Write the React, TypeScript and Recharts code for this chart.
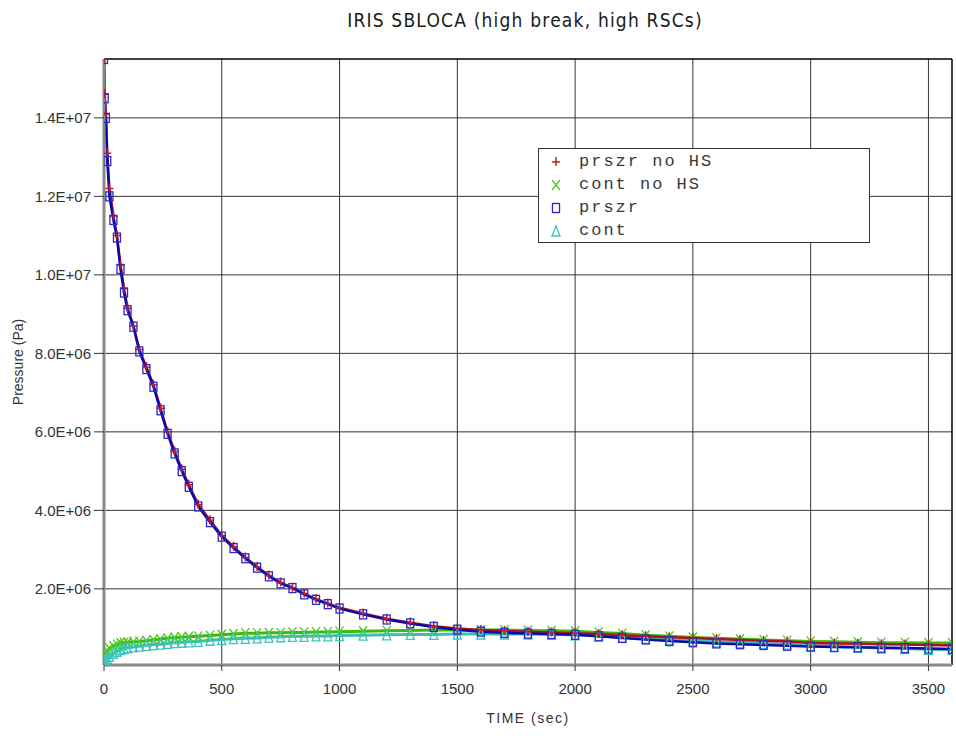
import { CartesianGrid, Line, LineChart, ReferenceLine, XAxis, YAxis } from "recharts"

// time in sec, pressures in MPa (axis labels print them in Pa)
const times = [
  0, 3, 8, 14, 23, 40, 55, 70, 85, 100, 125, 150, 180, 210, 240, 270, 300, 330, 360, 400, 450,
  500, 550, 600, 650, 700, 750, 800, 850, 900, 950, 1000,
  1100, 1200, 1300, 1400, 1500, 1600, 1700, 1800, 1900, 2000, 2100, 2200, 2300, 2400, 2500,
  2600, 2700, 2800, 2900, 3000, 3100, 3200, 3300, 3400, 3500, 3600,
]

const prszrNoHS = [
  15.5, 14.6, 14.1, 13.1, 12.2, 11.5, 11.0, 10.25, 9.65, 9.15, 8.7, 8.1, 7.65, 7.2, 6.6, 6.0, 5.5, 5.05, 4.65, 4.15, 3.75,
  3.36, 3.07, 2.8, 2.56, 2.34, 2.16, 2.03, 1.88, 1.74, 1.63, 1.52,
  1.37, 1.24, 1.14, 1.05, 0.99, 0.95, 0.93, 0.91, 0.89, 0.87, 0.85, 0.82, 0.79, 0.77, 0.75,
  0.72, 0.7, 0.68, 0.66, 0.62, 0.61, 0.6, 0.59, 0.58, 0.57, 0.56,
]

const contNoHS = [
  0.25, 0.3, 0.36, 0.42, 0.48, 0.54, 0.58, 0.62, 0.63, 0.64, 0.65, 0.66, 0.68, 0.7, 0.72, 0.74, 0.76, 0.77, 0.78, 0.79, 0.81,
  0.83, 0.85, 0.87, 0.87, 0.88, 0.88, 0.89, 0.89, 0.9, 0.9, 0.91,
  0.92, 0.93, 0.94, 0.95, 0.95, 0.95, 0.95, 0.94, 0.93, 0.92, 0.89, 0.86, 0.82, 0.79, 0.76,
  0.74, 0.72, 0.7, 0.68, 0.66, 0.65, 0.64, 0.63, 0.63, 0.62, 0.62,
]

const prszr = [
  15.5, 14.5, 14.0, 12.9, 12.0, 11.4, 10.95, 10.15, 9.55, 9.1, 8.68, 8.05, 7.6, 7.15, 6.55, 5.95, 5.45, 5.0, 4.6, 4.1, 3.7,
  3.33, 3.04, 2.78, 2.54, 2.32, 2.14, 2.02, 1.86, 1.72, 1.61, 1.5,
  1.35, 1.22, 1.12, 1.03, 0.96, 0.91, 0.88, 0.86, 0.85, 0.83, 0.79, 0.75, 0.71, 0.67, 0.64,
  0.61, 0.59, 0.57, 0.55, 0.53, 0.52, 0.51, 0.5, 0.49, 0.48, 0.47,
]

const cont = [
  0.1, 0.14, 0.19, 0.23, 0.28, 0.36, 0.41, 0.45, 0.48, 0.5, 0.52, 0.54, 0.56, 0.58, 0.59, 0.61, 0.63, 0.64, 0.65, 0.66, 0.69,
  0.71, 0.73, 0.74, 0.75, 0.77, 0.78, 0.79, 0.79, 0.8, 0.8, 0.81,
  0.82, 0.83, 0.84, 0.84, 0.85, 0.85, 0.85, 0.85, 0.84, 0.83, 0.8, 0.77, 0.74, 0.71, 0.68,
  0.65, 0.63, 0.61, 0.59, 0.55, 0.53, 0.51, 0.49, 0.48, 0.46, 0.45,
]

const xTicks = [0, 500, 1000, 1500, 2000, 2500, 3000, 3500]
const yTicks = [2, 4, 6, 8, 10, 12, 14]

const data = times.map((t, i) => ({
  t,
  prszrNoHS: prszrNoHS[i],
  contNoHS: contNoHS[i],
  prszr: prszr[i],
  cont: cont[i],
}))

const RED = "#c41c2c"
const GREEN = "#4cc81e"
const BLUE = "#2a2ac8"
const CYAN = "#3ec4bc"
const SANS = "'Liberation Sans', Arial, sans-serif"

function fmtY(v: number) {
  return v >= 10 ? `${(v / 10).toFixed(1)}E+07` : `${v.toFixed(1)}E+06`
}

const PlusDot = (p: any) =>
  p.cx == null ? <g key={p.index} /> : (
    <path key={p.index} d={`M${p.cx - 4},${p.cy}H${p.cx + 4}M${p.cx},${p.cy - 5}V${p.cy + 4}`} stroke={RED} strokeWidth={1.5} fill="none" />
  )

const CrossDot = (p: any) =>
  p.cx == null ? <g key={p.index} /> : (
    <path key={p.index} d={`M${p.cx - 4},${p.cy - 5}L${p.cx + 4},${p.cy + 5}M${p.cx + 4},${p.cy - 5}L${p.cx - 4},${p.cy + 5}`} stroke={GREEN} strokeWidth={1.3} fill="none" />
  )

const SquareDot = (p: any) =>
  p.cx == null ? <g key={p.index} /> : (
    <rect key={p.index} x={p.cx - 3.5} y={p.cy - 4.5} width={7} height={9} stroke={BLUE} strokeWidth={1.3} fill="none" />
  )

const TriDot = (p: any) =>
  p.cx == null ? <g key={p.index} /> : (
    <path key={p.index} d={`M${p.cx - 4},${p.cy + 5}L${p.cx},${p.cy - 5}L${p.cx + 4},${p.cy + 5}Z`} stroke={CYAN} strokeWidth={1.3} fill="none" />
  )

const legendItems = [
  { label: "prszr no HS", Dot: PlusDot },
  { label: "cont no HS", Dot: CrossDot },
  { label: "prszr", Dot: SquareDot },
  { label: "cont", Dot: TriDot },
]

function LegendBox() {
  return (
    <div
      style={{
        position: "absolute",
        left: 538,
        top: 148,
        width: 332,
        height: 95,
        border: "1px solid #333",
        background: "#fff",
        boxSizing: "border-box",
        paddingTop: 1,
      }}
    >
      {legendItems.map(({ label, Dot }, i) => (
        <div key={label} style={{ display: "flex", alignItems: "center", height: 23 }}>
          <svg width={40} height={23}>
            <Dot cx={17} cy={12} index={i} />
          </svg>
          <span style={{ fontFamily: "'Liberation Mono', monospace", fontSize: 17, letterSpacing: 2, color: "#3a3a3a" }}>
            {label}
          </span>
        </div>
      ))}
    </div>
  )
}

export default function App() {
  return (
    <div style={{ position: "absolute", left: 0, top: 0, width: 956, height: 739, background: "#fff" }}>
      <div
        style={{
          position: "absolute",
          left: 0,
          top: 9,
          width: 1050,
          textAlign: "center",
          fontFamily: "'Liberation Sans Narrow', 'DejaVu Sans Condensed', sans-serif",
          fontSize: 19,
          letterSpacing: 1.2,
          color: "#1a1a1a",
        }}
      >
        IRIS SBLOCA (high break, high RSCs)
      </div>
      <LineChart width={956} height={739} data={data} margin={{ top: 59, right: 4, bottom: 0, left: 0 }}>
        <CartesianGrid stroke="#333" strokeWidth={1} horizontalValues={yTicks} verticalValues={xTicks} />
        <XAxis
          dataKey="t"
          type="number"
          domain={[0, 3600]}
          ticks={xTicks}
          allowDataOverflow
          height={74}
          axisLine={{ stroke: "#888", strokeWidth: 3 }}
          tickLine={{ stroke: "#333" }}
          tickSize={6}
          tickMargin={12}
          tick={{ fontSize: 15, fill: "#333", fontFamily: SANS }}
          label={{
            value: "TIME (sec)",
            position: "insideBottom",
            offset: 16,
            style: { fontSize: 14, fill: "#333", letterSpacing: 1.5, fontFamily: SANS },
          }}
        />
        <YAxis
          type="number"
          domain={[0.06, 15.5]}
          ticks={yTicks}
          allowDataOverflow
          width={104}
          tickFormatter={fmtY}
          axisLine={{ stroke: "#888", strokeWidth: 3 }}
          tickLine={{ stroke: "#333" }}
          tickSize={10}
          tickMargin={3}
          tick={{ fontSize: 15, fill: "#333", fontFamily: SANS }}
          label={{
            value: "Pressure (Pa)",
            angle: -90,
            position: "insideLeft",
            offset: 18,
            style: { fontSize: 14, fill: "#333", textAnchor: "middle", fontFamily: SANS },
          }}
        />
        <ReferenceLine y={15.5} stroke="#000" strokeWidth={1.5} />
        <ReferenceLine x={3600} stroke="#000" strokeWidth={1.5} />
        <Line dataKey="contNoHS" stroke="#3cba08" strokeWidth={3} dot={CrossDot} isAnimationActive={false} />
        <Line dataKey="cont" stroke="#3cbdb6" strokeWidth={3} dot={TriDot} isAnimationActive={false} />
        <Line dataKey="prszrNoHS" stroke="#b0101e" strokeWidth={2.5} dot={PlusDot} isAnimationActive={false} />
        <Line dataKey="prszr" stroke="#0a0aa8" strokeWidth={2.5} dot={SquareDot} isAnimationActive={false} />
      </LineChart>
      <LegendBox />
    </div>
  )
}
